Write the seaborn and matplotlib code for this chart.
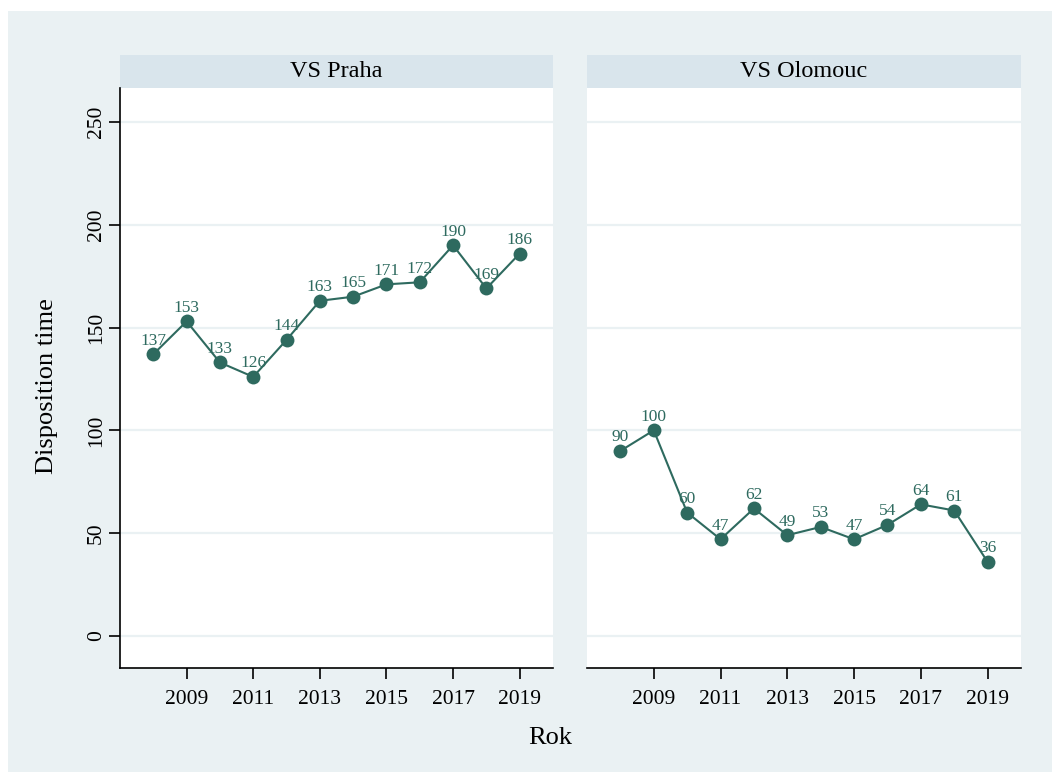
import matplotlib
matplotlib.use("Agg")
import matplotlib.pyplot as plt
from matplotlib.patches import Rectangle
import seaborn as sns
import pandas as pd

years = list(range(2008, 2020))
praha = [137, 153, 133, 126, 144, 163, 165, 171, 172, 190, 169, 186]
olomouc = [90, 100, 60, 47, 62, 49, 53, 47, 54, 64, 61, 36]
panels = ["VS Praha", "VS Olomouc"]
xticks = [2009, 2011, 2013, 2015, 2017, 2019]
yticks = [0, 50, 100, 150, 200, 250]

df = pd.DataFrame({
    "Rok": years * 2,
    "value": praha + olomouc,
    "court": [panels[0]] * len(years) + [panels[1]] * len(years),
})

sns.set_theme(style="white")
plt.rcParams["font.family"] = ["Liberation Serif", "DejaVu Serif"]
plt.rcParams["text.color"] = "black"
plt.rcParams["xtick.color"] = "black"
plt.rcParams["ytick.color"] = "black"
plt.rcParams["xtick.labelcolor"] = "black"
plt.rcParams["ytick.labelcolor"] = "black"

LINE = "#2E6A5F"
BG = "#EAF1F3"
STRIP = "#D9E5EC"
GRID = "#EAF1F3"

fig = plt.figure(figsize=(10.52, 7.72), dpi=100)
fig.patch.set_facecolor("white")
fig.patches.append(Rectangle((8 / 1052, 0), 1 - 8 / 1052, 1 - 11 / 772,
                             transform=fig.transFigure, facecolor=BG,
                             edgecolor="none", zorder=-10))

bottom = 1 - 668 / 772
height = (668 - 88) / 772
axes = [fig.add_axes([120 / 1052, bottom, 433 / 1052, height]),
        fig.add_axes([587 / 1052, bottom, 434 / 1052, height])]

for i, (ax, name) in enumerate(zip(axes, panels)):
    sub = df[df["court"] == name]
    ax.set_facecolor("white")
    for y in yticks:
        ax.axhline(y, color=GRID, lw=1.6, zorder=0)
    sns.lineplot(data=sub, x="Rok", y="value", ax=ax, color=LINE,
                 marker="o", markersize=10, markeredgewidth=0,
                 linewidth=1.5, zorder=3)
    for x, v in zip(sub["Rok"], sub["value"]):
        ax.annotate(str(v), (x, v), xytext=(0, 4), textcoords="offset points",
                    ha="center", va="bottom", fontsize=12.5, color=LINE,
                    zorder=4)
    ax.set_xlim(2007, 2020)
    ax.set_ylim(-15.6, 266.5)
    ax.set_xticks(xticks)
    ax.set_xticklabels([str(t) for t in xticks], fontsize=15.5, color="black")
    ax.set_xlabel("")
    ax.set_ylabel("")
    for s in ["top", "right"]:
        ax.spines[s].set_visible(False)
    ax.spines["bottom"].set_color("black")
    ax.spines["bottom"].set_linewidth(1.2)
    ax.tick_params(axis="x", direction="out", length=8, width=1.2,
                   color="black", pad=8, bottom=True)
    if i == 0:
        ax.spines["left"].set_color("black")
        ax.spines["left"].set_linewidth(1.2)
        ax.set_yticks(yticks)
        ax.set_yticklabels([str(t) for t in yticks], fontsize=15.5,
                           rotation=90, va="center", color="black")
        ax.tick_params(axis="y", direction="out", length=8, width=1.2,
                       color="black", pad=2, left=True)
    else:
        ax.spines["left"].set_visible(False)
        ax.set_yticks(yticks)
        ax.set_yticklabels([])
        ax.tick_params(axis="y", left=False, length=0)
    strip_h = 33 / 580
    ax.add_patch(Rectangle((0, 1), 1, strip_h, transform=ax.transAxes,
                           facecolor=STRIP, edgecolor="none", clip_on=False))
    ax.text(0.5, 1 + strip_h / 2, name, transform=ax.transAxes,
            ha="center", va="center", fontsize=17.5, color="black")

fig.text(550 / 1052, 1 - 738 / 772, "Rok", ha="center", va="center",
         fontsize=19, color="black")
fig.text(47 / 1052, 1 - 386 / 772, "Disposition time", ha="center",
         va="center", rotation=90, fontsize=19, color="black")

fig.savefig("out.png", dpi=100, facecolor=fig.get_facecolor())
